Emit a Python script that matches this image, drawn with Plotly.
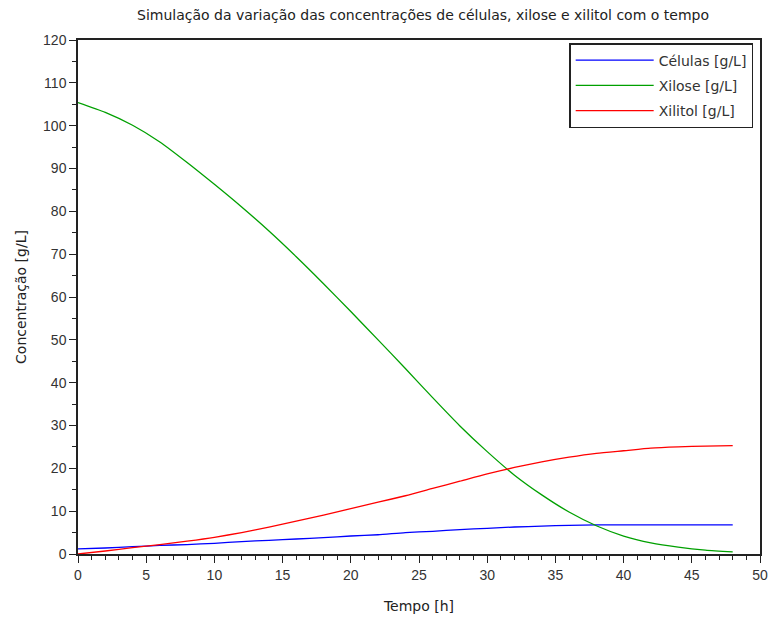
import plotly.graph_objects as go

tempo = [0, 2, 4, 6, 8, 10, 12, 14, 16, 18, 20, 22, 24, 26, 28, 30, 32, 34, 36, 38, 40, 42, 44, 46, 48]
celulas = [1.2, 1.4, 1.7, 2.0, 2.2, 2.5, 2.9, 3.2, 3.5, 3.8, 4.2, 4.5, 5.0, 5.3, 5.7, 6.0, 6.3, 6.5, 6.7, 6.8, 6.8, 6.8, 6.8, 6.8, 6.8]
xilose = [105.4, 103.1, 100.1, 96.2, 91.4, 86.3, 81.0, 75.4, 69.4, 63.1, 56.6, 50.0, 43.3, 36.5, 29.9, 23.9, 18.4, 13.8, 9.8, 6.6, 4.2, 2.6, 1.6, 0.9, 0.5]
xilitol = [0.0, 0.7, 1.5, 2.2, 3.0, 3.9, 5.0, 6.3, 7.7, 9.1, 10.6, 12.1, 13.6, 15.3, 17.0, 18.7, 20.2, 21.5, 22.6, 23.5, 24.1, 24.7, 25.0, 25.2, 25.3]

series = [
    ("Células [g/L]", celulas, "#0000FF"),
    ("Xilose [g/L]", xilose, "#00A000"),
    ("Xilitol [g/L]", xilitol, "#FF0000"),
]

FONT = "DejaVu Sans, Verdana, sans-serif"
TICKFONT = "Liberation Sans, Arial, sans-serif"

W, H = 771, 619

fig = go.Figure()
for i, (name, vals, col) in enumerate(series):
    fig.add_trace(go.Scatter(x=tempo, y=vals, mode="lines", name=name, legendgroup=f"g{i}",
                             line=dict(color=col, width=1.3, shape="spline", smoothing=0.6)))

axis_common = dict(
    showgrid=False, zeroline=False, showline=True, linecolor="#222222", linewidth=1.5,
    mirror=True, ticks="outside", ticklen=7, tickwidth=1.3, tickcolor="#222222",
    automargin=False,
    tickfont=dict(family=TICKFONT, size=14, color="#333333"),
)

fig.update_layout(
    width=W, height=H,
    margin=dict(l=78, r=11, t=40, b=65),
    paper_bgcolor="white", plot_bgcolor="white",
    title=dict(text="Simulação da variação das concentrações de células, xilose e xilitol com o tempo",
               x=423 / W, xanchor="center", y=1 - 15 / H, yanchor="middle",
               font=dict(family=FONT, size=14, color="#222222")),
    xaxis=dict(range=[0, 50], dtick=5, tick0=0,
               minor=dict(ticks="outside", dtick=1, ticklen=4, tickcolor="#222222"),
               title=dict(text="Tempo [h]", standoff=20,
                          font=dict(family=FONT, size=14, color="#222222")),
               **axis_common),
    yaxis=dict(range=[0, 120], dtick=10, tick0=0,
               minor=dict(ticks="outside", dtick=5, ticklen=4, tickcolor="#222222"),
               title=dict(text="Concentração [g/L]", standoff=13,
                          font=dict(family=FONT, size=14, color="#222222")),
               **axis_common),
    legend=dict(x=0.99, y=0.994, xanchor="right", yanchor="top",
                bgcolor="white", bordercolor="#222222", borderwidth=1.5,
                font=dict(family=FONT, size=14, color="#333333"),
                traceorder="grouped", tracegroupgap=4, itemwidth=78),
    showlegend=True,
)

fig.write_html("out.html", config={"displayModeBar": False},
               post_script="document.body.style.margin='0';document.body.style.overflow='hidden';")
